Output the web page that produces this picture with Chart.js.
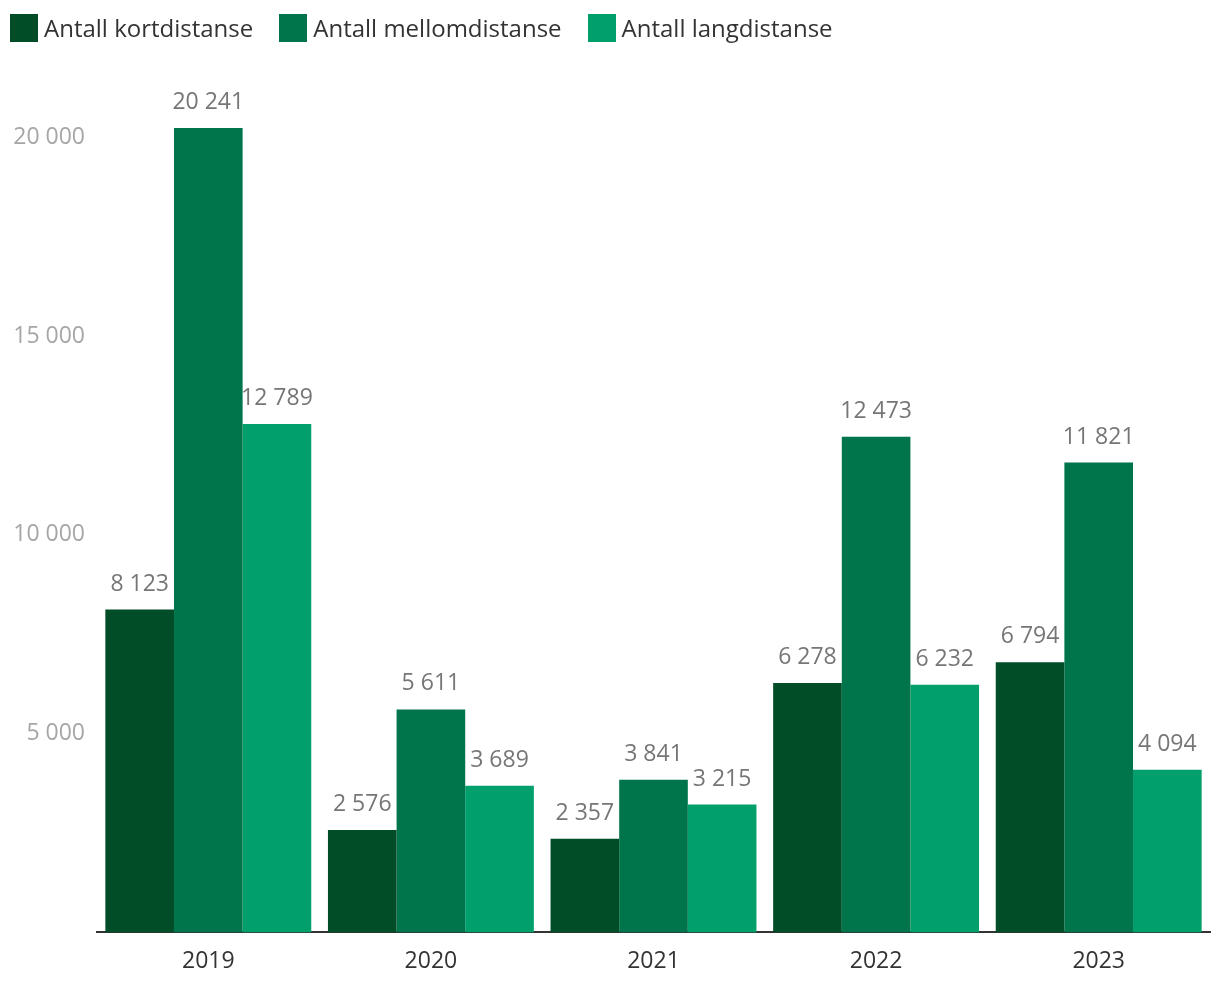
<!DOCTYPE html>
<html>
<head>
<meta charset="utf-8">
<style>
  body { margin: 0; background: #fff; }
  #wrap { position: relative; width: 1220px; height: 996px; }
  #legend { position: absolute; left: 10px; top: 14px; display: flex; font-family: 'Open Sans', 'Noto Sans', sans-serif; font-size: 24px; color: #333; line-height: 28px; }
  .item { display: flex; align-items: center; margin-right: 26px; }
  .box { width: 28px; height: 28px; margin-right: 6px; }
</style>
</head>
<body>
<div id="wrap">
  <canvas id="distChart" width="1220" height="996"></canvas>
  <div id="legend"></div>
</div>

<script src="https://cdn.jsdelivr.net/npm/chart.js"></script>
<script>
const years = ['2019', '2020', '2021', '2022', '2023'];
const kort = [8123, 2576, 2357, 6278, 6794];
const mellom = [20241, 5611, 3841, 12473, 11821];
const lang = [12789, 3689, 3215, 6232, 4094];
const yTicks = [5000, 10000, 15000, 20000];

const FONT = "'Open Sans', 'Noto Sans', sans-serif";

// tall med mellomrom som tusenskille
function fmt(v) {
  return String(v).replace(/\B(?=(\d{3})+(?!\d))/g, ' ');
}

// verdier over søylene
const barLabels = {
  id: 'barLabels',
  afterDatasetsDraw(chart) {
    const ctx = chart.ctx;
    ctx.save();
    ctx.font = '23px ' + FONT;
    ctx.fillStyle = '#767676';
    ctx.textAlign = 'center';
    ctx.textBaseline = 'alphabetic';
    chart.data.datasets.forEach((ds, i) => {
      chart.getDatasetMeta(i).data.forEach((bar, j) => {
        ctx.fillText(fmt(ds.data[j]), bar.x, bar.y - 19);
      });
    });
    ctx.restore();
  }
};

const chart = new Chart(document.getElementById('distChart'), {
  type: 'bar',
  data: {
    labels: years,
    datasets: [
      { label: 'Antall kortdistanse', data: kort, backgroundColor: '#004d27' },
      { label: 'Antall mellomdistanse', data: mellom, backgroundColor: '#00754b' },
      { label: 'Antall langdistanse', data: lang, backgroundColor: '#009f6b' }
    ]
  },
  options: {
    responsive: false,
    animation: false,
    layout: { padding: { left: 0, right: 10, top: 58, bottom: 6 } },
    datasets: { bar: { categoryPercentage: 0.925, barPercentage: 1 } },
    plugins: {
      legend: { display: false },
      tooltip: { enabled: false }
    },
    scales: {
      x: {
        grid: { display: false, drawTicks: false, tickLength: 0 },
        border: { display: true, color: '#333', width: 2 },
        ticks: { color: '#333', padding: 15, font: { family: FONT, size: 23 } }
      },
      y: {
        min: 0,
        max: 22000,
        grid: { display: false, drawTicks: false, tickLength: 0 },
        border: { display: false },
        afterFit(scale) { scale.width = 97; },
        afterBuildTicks(scale) {
          scale.ticks = yTicks.map(v => ({ value: v }));
        },
        ticks: {
          color: '#a6a6a6',
          padding: 12,
          font: { family: FONT, size: 23 },
          callback: v => fmt(v)
        }
      }
    }
  },
  plugins: [barLabels]
});

// legende som html
const legend = document.getElementById('legend');
chart.data.datasets.forEach(ds => {
  const item = document.createElement('div');
  item.className = 'item';
  const box = document.createElement('span');
  box.className = 'box';
  box.style.background = ds.backgroundColor;
  item.appendChild(box);
  item.appendChild(document.createTextNode(ds.label));
  legend.appendChild(item);
});
</script>
</body>
</html>
